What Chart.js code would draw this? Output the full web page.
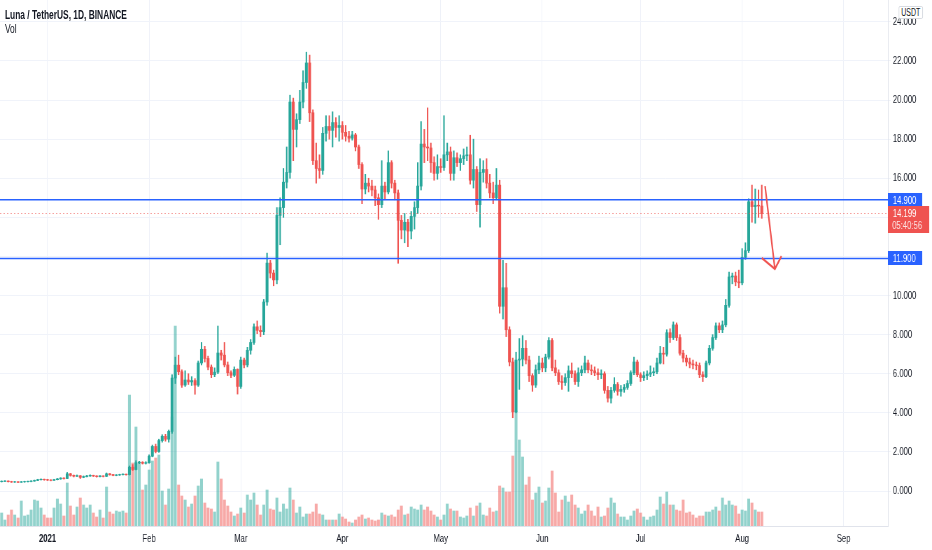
<!DOCTYPE html>
<html lang="en">
<head>
    <meta charset="UTF-8">
    <title>Luna / TetherUS, 1D, BINANCE</title>
    <script src="https://cdn.jsdelivr.net/npm/chart.js"></script>
    <style>
        html, body { margin: 0; padding: 0; background: #fff; overflow: hidden; }
        #frame { width: 932px; height: 550px; overflow: hidden; }
        /* the chart is laid out 1332px wide and squeezed to 932px, like the narrow screenshot text */
        #wrap { position: relative; width: 1332px; height: 550px; transform: scaleX(0.6997); transform-origin: 0 0; }
        #header {
            position: absolute; left: 7px; top: 8px;
            font-family: "Liberation Sans", Arial, sans-serif;
            font-size: 12px; line-height: 14px; color: #131722;
        }
        #header .title { font-weight: bold; }
        #unit {
            position: absolute; left: 1284px; top: 6px; padding: 0 3px;
            border: 1px solid #d1d4dc; border-radius: 2px; background: #fff;
            font-family: "Liberation Sans", Arial, sans-serif;
            font-size: 10px; line-height: 11px; color: #131722;
        }
    </style>
</head>
<body>
<div id="frame">
<div id="wrap">
    <canvas id="lunaChart" width="1332" height="550" style="width:1332px;height:550px"></canvas>
    <div id="header">
        <div class="title">Luna / TetherUS, 1D, BINANCE</div>
        <div>Vol</div>
    </div>
    <div id="unit">USDT</div>
</div>
</div>

<script>
    // daily candles, 18 Dec 2020 .. 7 Aug 2021 (one line per month)
    const firstDay = '2020-12-18';
    const opens = [
        0.48, 0.50, 0.51, 0.48, 0.46, 0.47, 0.45, 0.47, 0.48, 0.49, 0.51, 0.54, 0.58, 0.60,
        0.58, 0.56, 0.55, 0.58, 0.62, 0.66, 0.64, 0.88, 0.80, 0.76, 0.78, 0.70, 0.74, 0.77, 0.80, 0.77, 0.74, 0.77, 0.75, 0.88, 0.84, 0.80, 0.82, 0.84, 0.86, 0.84, 1.22, 1.10, 1.45, 1.47, 1.42,
        1.45, 1.78, 2.28, 2.02, 2.58, 2.80, 2.65, 3.05, 5.78, 6.44, 6.10, 5.42, 5.68, 5.58, 5.65, 5.42, 6.55, 7.25, 6.78, 6.34, 5.95, 6.08, 7.06, 6.95, 6.45, 6.05, 5.92, 6.22,
        5.35, 6.70, 6.45, 7.20, 7.60, 8.40, 8.22, 8.15, 9.67, 11.66, 11.15, 10.80, 14.10, 14.50, 15.80, 16.30, 19.90, 18.50, 19.00, 19.90, 20.90, 21.90, 19.35, 16.90, 16.50, 16.40, 18.30, 18.65, 18.45, 18.85, 18.60,
        18.70, 18.35, 18.15, 18.05, 18.22, 17.60, 16.70, 15.45, 15.75, 15.60, 15.40, 15.00, 14.65, 15.60, 15.30, 16.80, 15.75, 15.25, 13.85, 13.35, 13.75, 13.30, 14.05, 14.50, 15.60, 17.75, 17.60, 17.55, 16.80, 16.25,
        16.60, 16.55, 17.20, 17.35, 16.25, 17.05, 16.80, 17.00, 17.15, 17.20, 15.90, 16.45, 14.65, 16.30, 16.45, 15.75, 15.25, 15.00, 15.65, 9.45, 10.40, 8.25, 6.60, 4.05, 6.70, 6.75, 7.30, 6.70, 5.90, 5.42, 6.20,
        6.55, 6.30, 6.85, 7.70, 6.30, 6.05, 5.60, 5.55, 5.80, 6.15, 6.00, 5.60, 6.05, 6.20, 6.55, 6.20, 6.15, 6.05, 5.95, 6.00, 5.15, 4.75, 5.15, 5.45, 5.10, 5.20, 5.30, 5.50, 6.05, 6.60,
        5.95, 5.80, 5.90, 5.98, 6.05, 6.10, 6.55, 7.05, 7.00, 8.10, 7.85, 8.50, 7.85, 7.05, 6.80, 6.60, 6.50, 6.45, 6.42, 5.95, 5.85, 6.55, 7.30, 7.85, 8.45, 8.25, 8.50, 9.50, 10.95, 11.00, 10.70,
        10.65, 11.95, 12.30, 14.80, 14.55, 14.62, 14.58
    ];
    const highs = [
        0.52, 0.53, 0.52, 0.50, 0.49, 0.48, 0.49, 0.50, 0.51, 0.53, 0.56, 0.60, 0.62, 0.61,
        0.60, 0.58, 0.60, 0.64, 0.68, 0.68, 0.95, 0.90, 0.82, 0.82, 0.79, 0.77, 0.80, 0.83, 0.81, 0.78, 0.79, 0.78, 0.92, 0.89, 0.85, 0.84, 0.86, 0.88, 0.87, 1.28, 1.35, 1.55, 1.52, 1.50, 1.50,
        1.85, 2.35, 2.40, 2.65, 2.88, 2.90, 3.12, 5.95, 6.85, 6.95, 6.20, 6.15, 6.00, 5.85, 5.75, 6.65, 7.60, 7.40, 6.90, 6.45, 6.30, 8.44, 7.20, 7.60, 6.60, 6.15, 6.35, 6.25,
        6.85, 6.80, 7.35, 7.75, 8.55, 8.70, 8.45, 9.80, 12.17, 11.80, 11.30, 14.50, 15.00, 16.50, 17.60, 20.25, 20.10, 19.30, 20.50, 21.50, 22.45, 22.30, 19.50, 17.80, 17.20, 18.60, 19.20, 19.20, 19.40, 19.10, 19.20,
        18.90, 18.70, 18.40, 18.40, 18.30, 17.70, 16.80, 16.20, 16.00, 15.90, 15.60, 15.20, 16.90, 15.80, 17.40, 16.90, 15.90, 15.40, 14.10, 14.20, 13.90, 14.30, 14.80, 16.80, 18.90, 18.50, 19.60, 17.80, 17.10, 17.20,
        17.00, 19.20, 17.80, 17.60, 17.40, 17.30, 17.20, 17.50, 17.60, 18.20, 18.00, 16.60, 17.00, 16.90, 17.00, 16.20, 15.80, 16.50, 15.90, 11.80, 11.65, 8.40, 6.80, 7.10, 7.80, 7.95, 7.70, 6.90, 6.00, 6.45, 6.90,
        6.80, 7.00, 7.85, 7.80, 6.70, 6.20, 5.90, 6.00, 6.40, 6.55, 6.15, 6.30, 6.40, 6.90, 6.70, 6.45, 6.35, 6.25, 6.20, 6.10, 5.35, 5.30, 5.80, 5.55, 5.40, 5.45, 5.65, 6.15, 6.85, 6.70,
        6.05, 6.10, 6.15, 6.40, 6.30, 6.80, 7.40, 7.35, 8.25, 8.30, 8.65, 8.60, 8.00, 7.20, 6.95, 6.80, 6.70, 6.60, 6.55, 6.10, 6.65, 7.45, 8.00, 8.60, 8.60, 8.70, 9.80, 11.20, 11.15, 11.20, 11.30,
        12.40, 12.70, 14.95, 15.65, 15.45, 15.40, 15.65
    ];
    const lows = [
        0.46, 0.48, 0.46, 0.44, 0.44, 0.43, 0.44, 0.45, 0.46, 0.47, 0.50, 0.53, 0.56, 0.55,
        0.54, 0.52, 0.54, 0.57, 0.60, 0.61, 0.63, 0.76, 0.72, 0.74, 0.64, 0.68, 0.72, 0.75, 0.74, 0.71, 0.72, 0.72, 0.74, 0.81, 0.78, 0.78, 0.80, 0.82, 0.81, 0.82, 1.05, 1.08, 1.40, 1.38, 1.38,
        1.42, 1.75, 1.95, 1.98, 2.50, 2.55, 2.50, 2.95, 5.50, 5.95, 5.30, 5.35, 5.45, 5.40, 4.95, 5.35, 6.45, 6.60, 6.20, 5.80, 5.85, 6.00, 6.70, 6.35, 5.90, 5.80, 5.85, 4.96,
        5.25, 6.30, 6.35, 7.00, 7.50, 8.05, 7.90, 8.00, 9.50, 10.90, 10.50, 10.60, 12.60, 14.00, 15.50, 16.00, 16.90, 17.60, 18.80, 19.60, 20.60, 18.90, 16.70, 15.75, 16.00, 16.20, 17.90, 18.00, 17.60, 18.10, 17.90,
        18.00, 17.90, 17.85, 17.95, 17.40, 16.50, 14.70, 15.20, 15.30, 15.10, 14.60, 13.90, 14.50, 14.90, 15.20, 15.50, 14.90, 11.65, 12.90, 12.70, 12.50, 12.90, 13.40, 14.20, 15.40, 16.80, 16.90, 16.30, 15.90, 15.95,
        16.30, 16.40, 16.90, 15.90, 15.90, 16.60, 16.40, 16.70, 16.90, 15.70, 15.50, 14.30, 13.50, 15.80, 15.50, 15.00, 14.70, 14.90, 9.10, 8.80, 7.90, 6.40, 3.75, 4.00, 5.20, 6.40, 6.50, 5.60, 5.10, 5.30, 6.00,
        6.10, 6.10, 6.75, 6.15, 5.90, 5.45, 5.20, 5.40, 5.10, 5.80, 5.45, 5.35, 5.90, 6.05, 6.05, 5.95, 5.90, 5.70, 5.75, 5.00, 4.55, 4.50, 5.05, 4.90, 4.85, 5.05, 5.20, 5.40, 5.95, 5.85,
        5.60, 5.65, 5.70, 5.85, 5.90, 6.00, 6.50, 6.50, 6.90, 7.60, 7.75, 7.70, 6.95, 6.60, 6.40, 6.30, 6.25, 6.20, 5.80, 5.60, 5.80, 6.45, 7.20, 7.75, 8.10, 8.10, 8.40, 9.40, 10.60, 10.50, 10.40,
        10.55, 11.85, 12.20, 13.75, 13.70, 14.00, 13.95
    ];
    const closes = [
        0.50, 0.51, 0.48, 0.46, 0.47, 0.45, 0.47, 0.48, 0.49, 0.51, 0.54, 0.58, 0.60, 0.58,
        0.56, 0.55, 0.58, 0.62, 0.66, 0.64, 0.88, 0.80, 0.76, 0.78, 0.70, 0.74, 0.77, 0.80, 0.77, 0.74, 0.77, 0.75, 0.88, 0.84, 0.80, 0.82, 0.84, 0.86, 0.84, 1.22, 1.10, 1.45, 1.47, 1.42, 1.45,
        1.78, 2.28, 2.02, 2.58, 2.80, 2.65, 3.05, 5.78, 6.44, 6.10, 5.42, 5.68, 5.58, 5.65, 5.42, 6.55, 7.25, 6.78, 6.34, 5.95, 6.08, 7.06, 6.95, 6.45, 6.05, 5.92, 6.22, 5.35,
        6.70, 6.45, 7.20, 7.60, 8.40, 8.22, 8.15, 9.67, 11.66, 11.15, 10.80, 14.10, 14.50, 15.80, 16.30, 19.90, 18.50, 19.00, 19.90, 20.90, 21.90, 19.35, 16.90, 16.50, 16.40, 18.30, 18.65, 18.45, 18.85, 18.60, 18.70,
        18.35, 18.15, 18.05, 18.22, 17.60, 16.70, 15.45, 15.75, 15.60, 15.40, 15.00, 14.65, 15.60, 15.30, 16.80, 15.75, 15.25, 13.85, 13.35, 13.75, 13.30, 14.05, 14.50, 15.60, 17.75, 17.60, 17.55, 16.80, 16.25, 16.60,
        16.55, 17.20, 17.35, 16.25, 17.05, 16.80, 17.00, 17.15, 17.20, 15.90, 16.45, 14.65, 16.30, 16.45, 15.75, 15.25, 15.00, 15.65, 9.45, 10.40, 8.25, 6.60, 4.05, 6.70, 6.75, 7.30, 6.70, 5.90, 5.42, 6.20, 6.55,
        6.30, 6.85, 7.70, 6.30, 6.05, 5.60, 5.55, 5.80, 6.15, 6.00, 5.60, 6.05, 6.20, 6.55, 6.20, 6.15, 6.05, 5.95, 6.00, 5.15, 4.75, 5.15, 5.45, 5.10, 5.20, 5.30, 5.50, 6.05, 6.60, 5.95,
        5.80, 5.90, 5.98, 6.05, 6.10, 6.55, 7.05, 7.00, 8.10, 7.85, 8.50, 7.85, 7.05, 6.80, 6.60, 6.50, 6.45, 6.42, 5.95, 5.85, 6.55, 7.30, 7.85, 8.45, 8.25, 8.50, 9.50, 10.95, 11.00, 10.70, 10.65,
        11.95, 12.30, 14.80, 14.55, 14.62, 14.58, 14.199
    ];
    const volumes = [
        13, 6, 11, 16, 11, 8, 25, 10, 11, 16, 26, 25, 18, 11,
        8, 8, 18, 27, 22, 10, 43, 20, 11, 19, 28, 21, 18, 21, 13, 9, 16, 8, 39, 14, 12, 15, 14, 15, 13, 131, 63, 99, 64, 36, 41,
        56, 65, 68, 71, 35, 21, 37, 109, 200, 41, 30, 26, 19, 22, 30, 40, 47, 23, 18, 17, 14, 64, 47, 26, 20, 14, 10, 12,
        18, 13, 31, 26, 33, 21, 11, 21, 36, 17, 16, 28, 14, 22, 17, 38, 26, 13, 19, 9, 12, 12, 14, 22, 12, 11, 6, 6, 6, 6, 12,
        9, 7, 4, 3, 6, 9, 11, 7, 8, 6, 5, 6, 13, 11, 10, 11, 9, 16, 20, 11, 12, 19, 17, 16, 21, 16, 19, 15, 11, 9,
        6, 11, 22, 17, 15, 15, 9, 8, 10, 18, 10, 20, 23, 11, 10, 18, 14, 15, 40, 38, 34, 34, 70, 115, 86, 69, 41, 49, 26, 33, 39,
        23, 25, 38, 55, 33, 14, 26, 30, 24, 31, 21, 18, 12, 15, 21, 15, 10, 19, 9, 10, 18, 28, 23, 12, 9, 9, 6, 10, 15, 17,
        13, 9, 6, 9, 10, 16, 29, 22, 34, 21, 21, 16, 15, 26, 13, 14, 11, 8, 10, 10, 14, 14, 16, 19, 15, 28, 21, 25, 21, 20, 12,
        16, 15, 27, 23, 16, 14, 14
    ];

    // axis text
    const monthDates = ['2021-01-01', '2021-02-01', '2021-03-01', '2021-04-01', '2021-05-01', '2021-06-01', '2021-07-01', '2021-08-01', '2021-09-01'];
    const monthNames = ['2021', 'Feb', 'Mar', 'Apr', 'May', 'Jun', 'Jul', 'Aug', 'Sep'];
    const priceTicks = [0, 2, 4, 6, 8, 10, 12, 14, 16, 18, 20, 22, 24];

    // drawings on the chart
    const levels = [14.9, 11.9];
    const lastPrice = 14.199;
    const countdown = '05:40:56';
    const arrowDates = ['2021-08-08', '2021-08-11', '2021-08-07', '2021-08-11', '2021-08-13'];
    const arrowPrices = [15.6, 11.36, 11.92, 11.36, 12.02];

    const up = '#26a69a', down = '#ef5350';
    const upVol = 'rgba(38,166,154,0.5)', downVol = 'rgba(239,83,80,0.5)';
    const lineBlue = '#2962ff';
    const axisFont = '"Liberation Sans", Arial, sans-serif';

    // one category per day, running past the last candle to mid September
    const labels = [];
    const t0 = Date.parse(firstDay + 'T00:00:00Z');
    for (let i = 0; i < 271; i++) {
        labels.push(new Date(t0 + i * 86400000).toISOString().slice(0, 10));
    }

    const colors = closes.map((c, i) => c >= opens[i] ? up : down);
    const volColors = closes.map((c, i) => c >= opens[i] ? upVol : downVol);

    const overlay = {
        id: 'overlay',
        afterDatasetsDraw(chart) {
            const ctx = chart.ctx, area = chart.chartArea;
            const x = chart.scales.x, y = chart.scales.y;
            ctx.save();

            // last price dotted line
            const py = Math.round(y.getPixelForValue(lastPrice)) + 0.5;
            ctx.strokeStyle = 'rgba(239,83,80,0.55)';
            ctx.lineWidth = 1;
            ctx.setLineDash([2, 3]);
            ctx.beginPath(); ctx.moveTo(area.left, py); ctx.lineTo(area.right, py); ctx.stroke();
            ctx.setLineDash([]);

            // horizontal levels
            ctx.strokeStyle = lineBlue;
            ctx.lineWidth = 1.5;
            levels.forEach(v => {
                const ly = y.getPixelForValue(v);
                ctx.beginPath(); ctx.moveTo(area.left, ly); ctx.lineTo(area.right, ly); ctx.stroke();
            });

            // arrow
            const pts = arrowDates.map((d, i) => [x.getPixelForValue(labels.indexOf(d)), y.getPixelForValue(arrowPrices[i])]);
            ctx.strokeStyle = down;
            ctx.lineWidth = 2.2;
            ctx.beginPath();
            ctx.moveTo(pts[0][0], pts[0][1]); ctx.lineTo(pts[1][0], pts[1][1]);
            ctx.moveTo(pts[2][0], pts[2][1]); ctx.lineTo(pts[3][0], pts[3][1]); ctx.lineTo(pts[4][0], pts[4][1]);
            ctx.stroke();

            // price scale labels
            ctx.font = '11px ' + axisFont;
            ctx.textBaseline = 'middle';
            ctx.textAlign = 'left';
            levels.forEach(v => {
                const ly = Math.round(y.getPixelForValue(v));
                ctx.fillStyle = lineBlue;
                ctx.fillRect(area.right, ly - 7, 49, 14);
                ctx.fillStyle = '#fff';
                ctx.fillText(v.toFixed(3), area.right + 7, ly + 0.5);
            });
            const ry = Math.round(y.getPixelForValue(lastPrice));
            ctx.fillStyle = down;
            ctx.fillRect(area.right, ry - 7, 59, 27);
            ctx.fillStyle = '#fff';
            ctx.fillText(lastPrice.toFixed(3), area.right + 7, ry + 0.5);
            ctx.fillStyle = 'rgba(255,255,255,0.85)';
            ctx.fillText(countdown, area.right + 6, ry + 13);
            ctx.restore();
        }
    };

    const chartCtx = document.getElementById('lunaChart').getContext('2d');
    const lunaChart = new Chart(chartCtx, {
        type: 'bar',
        data: {
            labels: labels,
            datasets: [
                {
                    label: 'Body',
                    data: closes.map((c, i) => [opens[i], c]),
                    backgroundColor: colors,
                    barThickness: 3.4,
                    grouped: false,
                    order: 1
                },
                {
                    label: 'Wick',
                    data: closes.map((c, i) => [lows[i], highs[i]]),
                    backgroundColor: colors,
                    barThickness: 1.4,
                    grouped: false,
                    order: 2
                },
                {
                    label: 'Vol',
                    data: volumes,
                    yAxisID: 'vol',
                    backgroundColor: volColors,
                    barThickness: 3.4,
                    grouped: false,
                    order: 3
                }
            ]
        },
        options: {
            responsive: false,
            animation: false,
            events: [],
            devicePixelRatio: 1,
            layout: { padding: 0 },
            plugins: { legend: { display: false }, tooltip: { enabled: false } },
            scales: {
                x: {
                    type: 'category',
                    offset: true,
                    afterFit: s => { s.height = 24; s.paddingLeft = 0; s.paddingRight = 0; },
                    border: { color: '#e0e3eb' },
                    grid: {
                        offset: false,
                        drawTicks: false,
                        color: c => monthDates.includes(labels[c.index]) ? '#eef1f8' : 'rgba(0,0,0,0)'
                    },
                    ticks: {
                        autoSkip: false,
                        maxRotation: 0,
                        padding: 6,
                        color: '#131722',
                        font: c => ({
                            family: axisFont,
                            size: 11,
                            weight: labels[c.index] === '2021-01-01' ? 'bold' : 'normal'
                        }),
                        callback: (v, i) => {
                            const k = monthDates.indexOf(labels[i]);
                            return k >= 0 ? monthNames[k] : '';
                        }
                    }
                },
                y: {
                    position: 'right',
                    min: -1.79,
                    max: 25.12,
                    afterFit: s => { s.width = 63; s.paddingTop = 0; s.paddingBottom = 0; },
                    afterBuildTicks: s => { s.ticks = priceTicks.map(v => ({ value: v })); },
                    border: { color: '#e0e3eb' },
                    grid: { color: '#f0f3fa', tickLength: 4 },
                    ticks: {
                        padding: 3,
                        color: '#131722',
                        font: { family: axisFont, size: 11 },
                        callback: v => v.toFixed(3)
                    }
                },
                vol: {
                    position: 'left',
                    display: false,
                    min: 0,
                    max: 526
                }
            }
        },
        plugins: [overlay]
    });
</script>
</body>
</html>
